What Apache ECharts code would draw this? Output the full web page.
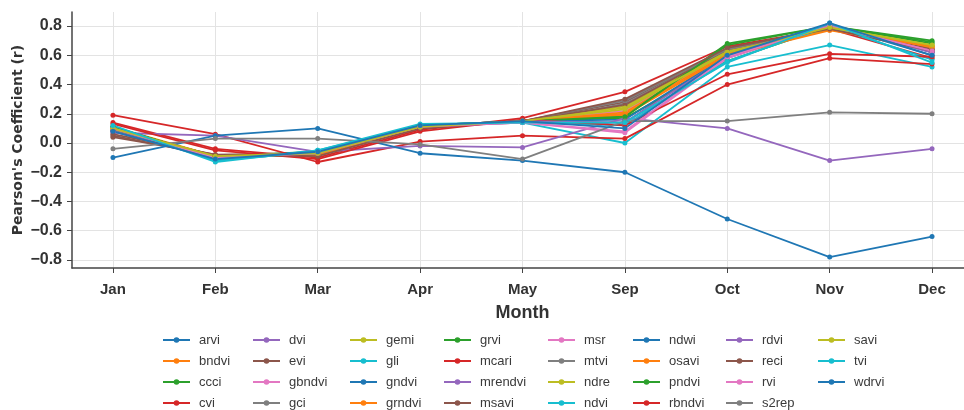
<!DOCTYPE html>
<html>
<head>
<meta charset="utf-8">
<script src="https://cdn.jsdelivr.net/npm/echarts@6/dist/echarts.min.js"></script>
<style>html,body{margin:0;padding:0;background:#fff;}#c{width:964px;height:410px;}</style>
</head>
<body>
<div id="c"></div>
<script>
const months = ['Jan','Feb','Mar','Apr','May','Sep','Oct','Nov','Dec'];
const yTicks = [-0.8,-0.6,-0.4,-0.2,0.0,0.2,0.4,0.6,0.8];

const arvi    = [0.09,-0.11,-0.07,0.11,0.15,0.14,0.60,0.81,0.62];
const bndvi   = [0.11,-0.09,-0.08,0.11,0.15,0.20,0.60,0.78,0.66];
const ccci    = [0.10,-0.09,-0.06,0.12,0.15,0.17,0.56,0.80,0.68];
const cvi     = [0.14,-0.04,-0.10,0.09,0.17,0.35,0.66,0.78,0.58];
const dvi     = [0.08,-0.10,-0.07,0.11,0.15,0.12,0.58,0.81,0.62];
const evi     = [0.04,-0.08,-0.07,0.10,0.15,0.28,0.64,0.79,0.64];
const gbndvi  = [0.10,-0.10,-0.08,0.12,0.15,0.22,0.62,0.80,0.65];
const gci     = [0.09,-0.09,-0.07,0.11,0.14,0.27,0.63,0.78,0.64];
const gemi    = [0.10,-0.09,-0.07,0.11,0.15,0.25,0.63,0.79,0.67];
const gli     = [0.11,-0.12,-0.05,0.12,0.14,0.00,0.52,0.67,0.52];
const gndvi   = [0.09,-0.10,-0.06,0.12,0.15,0.16,0.60,0.81,0.60];
const grndvi  = [0.10,-0.09,-0.07,0.11,0.15,0.21,0.61,0.78,0.65];
const grvi    = [0.11,-0.10,-0.07,0.11,0.15,0.18,0.68,0.80,0.70];
const mcari   = [0.19,0.06,-0.13,0.01,0.05,0.03,0.40,0.58,0.54];
const mrendvi = [0.07,0.05,-0.06,-0.02,-0.03,0.17,0.10,-0.12,-0.04];
const msavi   = [0.05,-0.09,-0.08,0.10,0.15,0.26,0.64,0.79,0.64];
const msr     = [0.10,-0.10,-0.07,0.11,0.14,0.07,0.58,0.80,0.63];
const mtvi    = [0.09,-0.09,-0.07,0.11,0.15,0.29,0.64,0.78,0.63];
const ndre    = [0.10,-0.10,-0.08,0.11,0.15,0.23,0.62,0.78,0.66];
const ndvi    = [0.11,-0.12,-0.06,0.12,0.14,0.12,0.56,0.80,0.57];
const ndwi    = [-0.10,0.05,0.10,-0.07,-0.12,-0.20,-0.52,-0.78,-0.64];
const osavi   = [0.10,-0.09,-0.08,0.11,0.15,0.19,0.60,0.77,0.66];
const pndvi   = [0.11,-0.10,-0.07,0.12,0.15,0.18,0.67,0.80,0.69];
const rbndvi  = [0.13,-0.05,-0.11,0.08,0.16,0.12,0.47,0.61,0.59];
const rdvi    = [0.08,-0.10,-0.07,0.11,0.15,0.14,0.59,0.81,0.62];
const reci    = [0.06,-0.08,-0.09,0.10,0.15,0.30,0.65,0.78,0.63];
const rvi     = [0.10,-0.10,-0.07,0.11,0.14,0.08,0.59,0.80,0.63];
const s2rep   = [-0.04,0.03,0.03,-0.01,-0.11,0.15,0.15,0.21,0.20];
const savi    = [0.10,-0.09,-0.07,0.11,0.15,0.24,0.62,0.79,0.67];
const tvi     = [0.12,-0.13,-0.05,0.13,0.14,0.14,0.55,0.82,0.55];
const wdrvi   = [0.08,-0.11,-0.06,0.12,0.15,0.10,0.60,0.82,0.60];

const seriesNames = ['arvi','bndvi','ccci','cvi','dvi','evi','gbndvi','gci','gemi','gli','gndvi','grndvi','grvi','mcari','mrendvi','msavi','msr','mtvi','ndre','ndvi','ndwi','osavi','pndvi','rbndvi','rdvi','reci','rvi','s2rep','savi','tvi','wdrvi'];
const seriesValues = [arvi,bndvi,ccci,cvi,dvi,evi,gbndvi,gci,gemi,gli,gndvi,grndvi,grvi,mcari,mrendvi,msavi,msr,mtvi,ndre,ndvi,ndwi,osavi,pndvi,rbndvi,rdvi,reci,rvi,s2rep,savi,tvi,wdrvi];
const palette = ['#1f77b4','#ff7f0e','#2ca02c','#d62728','#9467bd','#8c564b','#e377c2','#7f7f7f','#bcbd22','#17becf'];

const FONT = "'Liberation Sans', Arial, sans-serif";
const chart = echarts.init(document.getElementById('c'), null, {renderer:'canvas'});

const series = seriesNames.map((n, i) => ({
  name: n,
  type: 'line',
  data: seriesValues[i].map((v, j) => [j, v]),
  symbol: 'circle',
  symbolSize: 5,
  showSymbol: true,
  color: palette[i % 10],
  lineStyle: {width: 1.8, color: palette[i % 10]},
  itemStyle: {color: palette[i % 10]},
  emphasis: {disabled: true},
  animation: false,
  z: 2
}));

const colLefts = [162,252,349,443,547,632,725,817];
const legends = [];
for (let c = 0; c < 8; c++) {
  legends.push({
    orient: 'vertical',
    left: colLefts[c],
    top: 329.5,
    height: 100,
    padding: 0,
    itemGap: 0,
    itemWidth: 27,
    itemHeight: 7,
    selectedMode: false,
    textStyle: {fontSize: 13, lineHeight: 21, color: '#3a3a3a', fontFamily: FONT, padding: [0,0,0,4]},
    data: seriesNames.slice(c*4, c*4+4)
  });
}

chart.setOption({
  backgroundColor: '#fff',
  animation: false,
  legend: legends,
  grid: {left: 72, right: -9, top: 12, bottom: 142, containLabel: false, outerBoundsMode: 'none'},
  xAxis: {
    type: 'value',
    min: -0.4,
    max: 8.4,
    name: 'Month',
    nameLocation: 'middle',
    nameGap: 36,
    nameMoveOverlap: false,
    nameTextStyle: {fontSize: 18, fontWeight: 'bold', color: '#333', fontFamily: FONT},
    axisLine: {show: true, onZero: false, lineStyle: {color: '#444', width: 1.5}},
    axisTick: {show: true, length: 5, lineStyle: {color: '#444', width: 1}, customValues: [0,1,2,3,4,5,6,7,8]},
    axisLabel: {margin: 14, fontSize: 15, fontWeight: 'bold', color: '#333', fontFamily: FONT,
      customValues: [0,1,2,3,4,5,6,7,8],
      formatter: v => months[Math.round(v)] || ''},
    splitLine: {show: true, lineStyle: {color: '#e3e3e3', width: 1}}
  },
  yAxis: {
    type: 'value',
    min: -0.855,
    max: 0.896,
    name: "Pearson's Coefficient (r)",
    nameLocation: 'middle',
    nameGap: 47,
    nameMoveOverlap: false,
    nameTextStyle: {fontSize: 14, fontWeight: 'bold', color: '#333', fontFamily: "'DejaVu Sans', sans-serif"},
    axisLine: {show: true, onZero: false, lineStyle: {color: '#444', width: 1.5}},
    axisTick: {show: true, length: 5, lineStyle: {color: '#444', width: 1}, customValues: yTicks},
    axisLabel: {margin: 10, fontSize: 16, fontWeight: 'bold', color: '#333', fontFamily: FONT,
      customValues: yTicks,
      formatter: v => (Math.abs(v) < 1e-9 ? 0 : v).toFixed(1).replace('-', '\u2212')},
    splitLine: {show: true, lineStyle: {color: '#e3e3e3', width: 1}}
  },
  series: series
});
</script>
</body>
</html>
